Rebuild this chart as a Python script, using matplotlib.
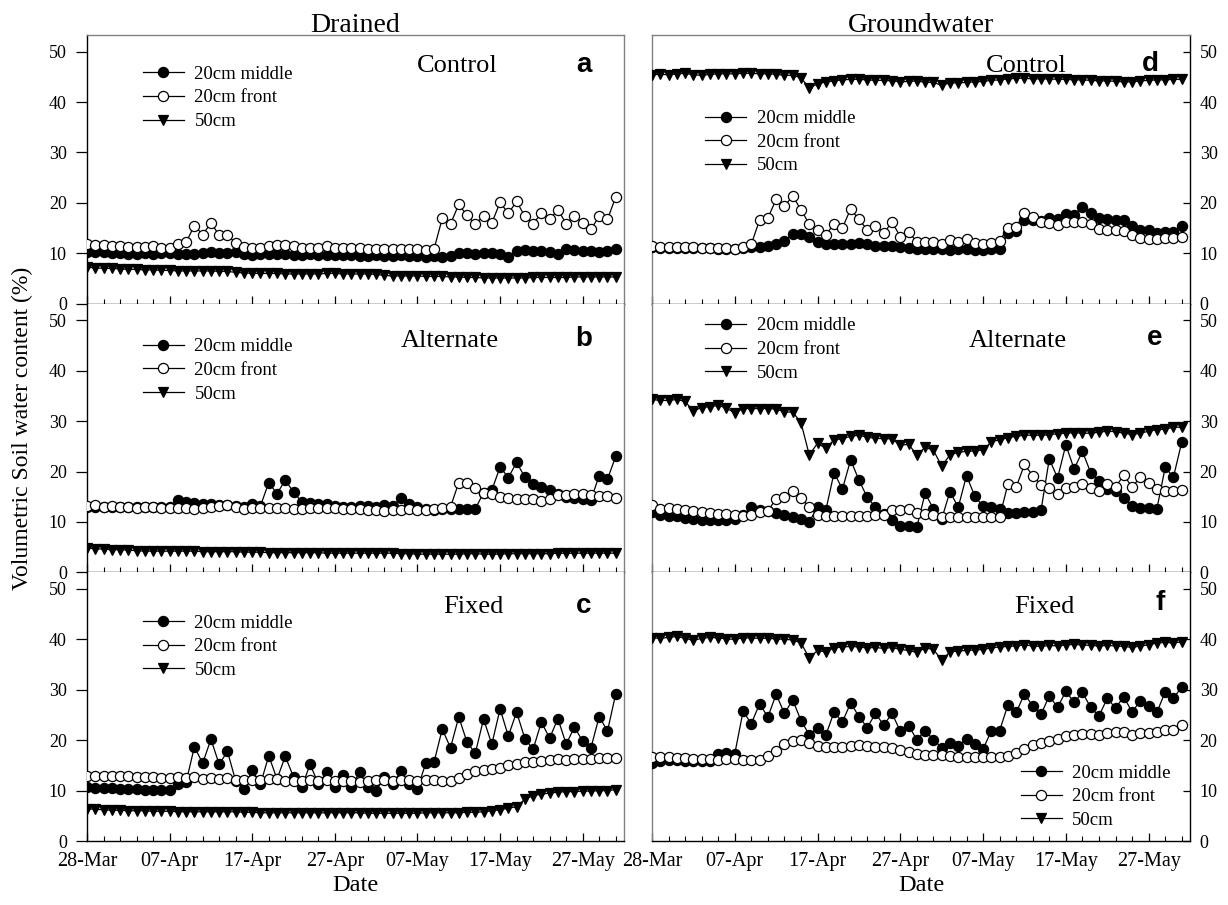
import matplotlib
matplotlib.use("Agg")
import matplotlib.pyplot as plt
import matplotlib.dates as mdates
from matplotlib.ticker import FixedLocator, NullFormatter
from datetime import datetime, timedelta

# ---------------- data ----------------
start = datetime(2010, 3, 28)
dates = [start + timedelta(days=i) for i in range(65)]
x_end = start + timedelta(days=65)
major_dates = [start + timedelta(days=10 * k) for k in range(7)]
minor_dates = [start + timedelta(days=2 * k) for k in range(33)]
tick_labels = ["28-Mar", "07-Apr", "17-Apr", "27-Apr", "07-May", "17-May", "27-May"]
yticks = [0, 10, 20, 30, 40, 50]
series_labels = ["20cm middle", "20cm front", "50cm"]
column_titles = ["Drained", "Groundwater"]
treatments = ["Control", "Alternate", "Fixed"]
panel_letters = ["a", "b", "c", "d", "e", "f"]

a_mid = [10.3,10.2,10.2,10.1,10.1,9.9,9.9,10.0,9.9,10.0,
         10.0,9.8,9.9,9.9,10.1,10.2,10.1,10.0,10.2,9.8,
         9.7,9.8,9.8,9.9,9.8,9.7,9.6,9.8,9.7,9.6,
         9.7,9.6,9.7,9.5,9.5,9.6,9.5,9.5,9.6,9.5,
         9.5,9.2,9.4,9.3,9.4,10.0,10.0,9.9,10.0,10.0,
         9.9,9.3,10.4,10.6,10.5,10.4,10.3,9.9,10.8,10.6,
         10.5,10.4,10.3,10.5,10.9]
a_front = [11.8,11.7,11.6,11.5,11.5,11.2,11.3,11.2,11.4,11.0,
           11.1,11.8,12.2,15.5,13.7,16.0,13.6,13.6,12.0,11.3,
           11.0,11.0,11.5,11.6,11.7,11.5,11.0,11.1,11.0,11.5,
           11.0,11.1,11.1,11.0,10.9,10.9,10.8,10.9,10.9,10.9,
           10.9,10.7,10.8,16.9,15.8,19.7,17.5,15.8,17.4,16.0,
           20.1,17.9,20.3,17.3,15.9,17.9,16.8,18.6,15.9,17.4,
           16.0,14.8,17.3,16.7,21.2]
a_50 = [7.2,7.1,7.0,7.0,6.9,6.8,6.8,6.7,6.7,6.6,
        6.6,6.5,6.5,6.5,6.5,6.5,6.4,6.4,6.2,6.1,
        6.0,6.0,6.0,6.0,5.9,5.9,5.9,5.9,5.9,6.0,
        6.0,5.9,5.9,5.9,5.9,5.8,5.6,5.5,5.5,5.5,
        5.5,5.4,5.4,5.4,5.3,5.3,5.2,5.2,5.1,5.1,
        5.1,5.1,5.1,5.1,5.2,5.2,5.2,5.2,5.2,5.3,
        5.3,5.3,5.3,5.3,5.3]

b_mid = [13.0,13.0,13.0,13.0,12.9,12.9,12.9,12.9,12.9,12.9,
         12.9,14.3,13.9,13.7,13.6,13.5,13.4,13.3,13.1,13.0,
         13.5,13.2,17.8,15.6,18.3,15.9,14.0,13.8,13.6,13.5,
         13.2,13.0,12.9,13.2,13.1,12.9,13.4,13.2,14.7,13.6,
         13.0,12.6,12.4,12.6,12.6,12.6,12.6,12.6,15.8,16.3,
         20.9,18.8,21.8,18.9,17.5,16.9,16.3,15.6,15.0,14.7,
         14.6,14.4,19.2,18.5,23.0]
b_front = [13.1,13.3,13.0,13.2,12.9,12.9,12.8,13.0,12.9,12.8,
           12.8,12.7,12.7,12.6,12.7,13.0,13.2,13.3,13.0,12.6,
           12.7,12.7,12.8,12.8,12.7,12.6,12.6,12.7,12.8,12.7,
           12.7,12.5,12.6,12.6,12.4,12.4,12.2,12.3,12.3,12.5,
           12.4,12.3,12.5,12.8,13.0,17.8,17.8,16.8,15.8,15.6,
           15.0,14.7,14.6,14.5,14.5,14.1,14.6,15.3,15.4,15.6,
           15.6,15.3,15.2,15.1,14.7]
b_50 = [4.8,4.7,4.6,4.5,4.5,4.4,4.3,4.2,4.2,4.2,
        4.2,4.2,4.2,4.2,4.1,4.1,4.1,4.1,4.1,4.0,
        4.0,4.0,3.9,3.9,3.9,3.9,3.9,3.9,3.9,3.8,
        3.8,3.8,3.8,3.8,3.8,3.8,3.8,3.8,3.7,3.7,
        3.6,3.6,3.6,3.6,3.6,3.6,3.7,3.7,3.6,3.6,
        3.6,3.7,3.7,3.7,3.7,3.7,3.7,3.8,3.8,3.8,
        3.8,3.8,3.8,3.8,3.8]

c_mid = [10.8,10.6,10.6,10.5,10.4,10.4,10.3,10.2,10.2,10.1,
         10.1,11.3,11.7,18.7,15.4,20.2,15.2,17.8,11.9,10.4,
         14.1,11.3,16.9,12.3,16.8,12.7,10.7,15.2,11.4,13.6,
         10.7,13.0,10.7,13.7,10.8,10.0,12.6,11.3,13.9,11.3,
         10.4,15.4,15.6,22.2,18.5,24.6,19.6,17.4,24.2,19.2,
         26.2,20.8,25.6,20.3,18.2,23.6,20.4,24.3,19.2,22.6,
         19.8,18.5,24.7,21.8,29.2]
c_front = [12.9,12.9,12.8,12.9,12.8,12.8,12.6,12.6,12.6,12.5,
           12.5,12.6,12.5,12.6,12.4,12.5,12.4,12.5,12.1,12.2,
           12.2,12.1,12.3,12.4,12.0,12.0,11.9,12.1,12.0,12.1,
           12.0,11.9,11.9,11.8,11.9,12.1,12.1,12.0,12.2,12.1,
           11.9,12.1,12.1,12.0,12.0,12.5,13.2,13.8,14.1,14.3,
           14.5,15.0,15.3,15.6,15.6,15.9,16.1,16.2,16.1,16.3,
           16.3,16.3,16.5,16.5,16.5]
c_50 = [6.4,6.3,6.2,6.1,6.1,6.0,6.0,6.0,5.9,5.9,
        5.9,5.8,5.8,5.8,5.8,5.8,5.8,5.8,5.8,5.7,
        5.7,5.6,5.6,5.6,5.6,5.6,5.6,5.6,5.6,5.6,
        5.6,5.6,5.6,5.6,5.5,5.5,5.5,5.5,5.5,5.5,
        5.5,5.6,5.6,5.6,5.6,5.6,5.7,5.7,5.8,6.0,
        6.2,6.5,6.8,8.3,9.0,9.3,9.5,9.7,9.8,9.8,
        9.9,9.9,10.0,10.0,10.2]

d_mid = [11.2,11.1,11.1,11.1,11.0,11.0,11.0,11.0,10.9,10.9,
         10.9,11.1,11.3,11.3,11.5,11.9,12.5,13.8,13.8,13.2,
         12.2,11.8,11.8,11.9,11.9,12.0,11.8,11.5,11.5,11.4,
         11.3,11.1,10.9,10.9,10.8,10.8,10.7,10.8,10.8,10.7,
         10.7,10.8,10.9,14.0,14.5,16.6,16.6,16.4,16.9,16.8,
         17.7,17.6,19.2,18.0,17.0,16.8,16.6,16.6,15.5,14.7,
         14.6,14.1,14.3,14.2,15.4]
d_front = [11.4,11.3,11.3,11.3,11.2,11.2,11.1,11.1,11.1,11.0,
           10.8,11.2,11.8,16.6,17.0,20.7,19.3,21.4,18.6,15.8,
           14.6,13.6,15.9,15.0,18.8,16.7,14.7,15.5,14.0,16.2,
           13.3,14.3,12.2,12.3,12.2,11.8,12.7,12.3,12.9,12.0,
           11.8,12.0,12.5,15.0,15.3,17.9,17.1,16.3,16.0,15.6,
           16.3,16.3,16.2,15.8,14.9,14.6,14.6,14.5,13.6,13.0,
           12.9,12.9,13.0,13.0,13.2]
d_50 = [45.4,45.5,45.4,45.6,45.7,45.4,45.3,45.5,45.6,45.6,
        45.6,45.7,45.7,45.6,45.6,45.5,45.3,45.3,44.8,42.8,
        43.6,44.0,44.2,44.4,44.5,44.5,44.4,44.3,44.3,44.2,
        44.0,44.1,44.2,43.9,43.9,43.3,43.8,43.8,43.9,44.0,
        44.1,44.3,44.4,44.6,44.7,44.7,44.6,44.6,44.6,44.5,
        44.5,44.4,44.4,44.3,44.2,44.2,44.1,44.0,44.0,44.2,
        44.3,44.4,44.4,44.5,44.5]

e_mid = [12.0,11.4,11.2,11.1,10.8,10.6,10.4,10.4,10.4,10.4,
         10.5,11.3,12.9,12.4,12.2,11.7,11.3,11.0,10.6,10.0,
         13.0,12.3,19.8,16.5,22.3,18.3,14.9,12.9,11.6,10.3,
         9.2,9.1,9.0,15.7,12.6,10.6,16.0,12.9,19.2,15.1,
         13.1,12.9,12.5,11.8,11.8,11.9,12.0,12.3,22.5,18.7,
         25.3,20.5,24.0,19.8,18.2,16.6,16.1,14.8,13.2,12.7,
         12.7,12.6,20.8,18.9,25.8]
e_front = [13.4,12.6,12.7,12.6,12.3,12.1,11.9,11.8,11.6,11.5,
           11.3,11.1,11.3,11.9,12.2,14.6,15.0,16.2,14.8,12.9,
           11.3,11.1,11.2,11.2,11.2,11.2,11.2,11.3,11.3,12.3,
           12.3,12.6,11.7,11.5,11.3,11.0,10.9,10.9,10.9,10.9,
           10.9,11.0,11.0,17.5,16.9,21.4,19.2,17.4,16.7,15.6,
           16.7,17.0,17.6,16.8,16.1,17.5,16.9,19.3,16.9,18.9,
           17.8,16.6,16.1,16.1,16.4]
e_50 = [34.3,34.1,34.1,34.3,33.9,32.0,32.7,32.9,33.1,32.6,
        31.6,32.5,32.5,32.5,32.5,32.4,31.8,31.8,29.7,23.3,
        25.6,24.6,26.3,26.5,27.0,27.2,26.8,26.6,26.5,26.5,
        25.2,25.4,23.3,24.8,24.2,21.1,23.3,23.8,24.0,24.1,
        24.3,25.9,26.3,26.7,27.0,27.2,27.2,27.2,27.3,27.5,
        27.6,27.7,27.6,27.6,27.8,28.0,27.9,27.6,27.3,27.6,
        28.0,28.3,28.4,28.8,28.8]

f_mid = [15.5,15.9,16.0,16.1,15.9,15.8,15.9,15.9,17.3,17.4,
         17.3,25.7,23.3,27.2,24.6,29.1,25.3,28.0,23.9,21.1,
         22.5,21.0,25.6,23.6,27.4,24.7,22.5,25.3,23.0,25.3,
         21.8,22.9,20.1,21.9,20.1,18.5,19.5,18.8,20.3,19.2,
         18.2,21.9,21.9,27.0,25.5,29.2,26.8,25.1,28.8,26.5,
         29.7,27.5,29.5,26.5,24.8,28.3,26.4,28.6,25.6,27.8,
         26.7,25.5,29.6,28.4,30.5]
f_front = [16.7,16.6,16.6,16.5,16.4,16.3,16.2,16.2,16.1,16.2,
           16.2,16.0,16.1,16.1,16.8,17.8,19.2,19.9,20.1,19.5,
           18.9,18.6,18.7,18.7,18.9,19.1,18.9,18.7,18.7,18.4,
           18.0,17.6,17.3,17.1,17.1,17.1,16.9,16.7,16.6,16.6,
           16.6,16.6,16.7,16.9,17.4,18.3,19.1,19.4,19.8,20.2,
           20.8,21.0,21.3,21.2,21.1,21.5,21.6,21.6,21.0,21.4,
           21.5,21.6,22.0,22.1,23.1]
f_50 = [40.3,40.2,40.4,40.6,40.2,39.8,40.2,40.4,40.3,40.1,
        40.0,40.3,40.3,40.2,40.2,40.1,40.0,39.9,39.3,36.3,
        37.8,37.5,38.3,38.5,38.6,38.5,38.3,38.4,38.2,38.4,
        38.0,37.8,37.4,38.3,38.0,35.9,37.5,37.7,37.8,37.9,
        38.0,38.3,38.5,38.6,38.7,38.9,38.7,38.6,38.8,38.7,
        38.9,39.0,38.9,38.8,38.7,38.8,38.7,38.6,38.4,38.7,
        38.9,39.3,39.4,39.3,39.5]

panel_data = [
    (a_mid, a_front, a_50), (b_mid, b_front, b_50), (c_mid, c_front, c_50),
    (d_mid, d_front, d_50), (e_mid, e_front, e_50), (f_mid, f_front, f_50),
]

# ---------------- layout / style ----------------
SERIF = "Liberation Serif"
SANS = "Liberation Sans"
plt.rcParams["font.family"] = SERIF

W, H = 1228, 905
fig = plt.figure(figsize=(W / 100, H / 100), dpi=100)

col_x = [87 / W, 652 / W]
col_w = [537 / W, 538 / W]
row_h = 268.67 / H
row_y = [1 - 35 / H - row_h, 1 - 35 / H - 2 * row_h, 1 - 35 / H - 3 * row_h]

legend_pos = [(0.104, 0.766), (0.104, 0.752), (0.104, 0.723),
              (0.0985, 0.601), (0.0985, 0.829), (0.685, 0.165)]
treat_pos = [(0.689, 0.863), (0.676, 0.837), (0.719, 0.847),
             (0.696, 0.863), (0.679, 0.837), (0.7295, 0.847)]
letter_pos = [(0.925, 0.863), (0.924, 0.841), (0.925, 0.847),
              (0.926, 0.867), (0.934, 0.847), (0.944, 0.86)]

GRAY = "#808080"
styles = [dict(marker="o", mfc="black", mec="black"),
          dict(marker="o", mfc="white", mec="black"),
          dict(marker="v", mfc="black", mec="black")]

axes = []
for col in range(2):
    for row in range(3):
        idx = col * 3 + row
        ax = fig.add_axes([col_x[col], row_y[row], col_w[col], row_h])
        axes.append(ax)
        handles = []
        for s, (vals, st) in enumerate(zip(panel_data[idx], styles)):
            h, = ax.plot(dates, vals, color="black", lw=0.9, ms=7.3,
                         mew=0.9, label=series_labels[s], zorder=3 + s, **st)
            handles.append(h)
        ax.set_xlim(start, x_end)
        ax.set_ylim(0, 53.3)
        ax.set_yticks(yticks)
        ax.xaxis.set_major_locator(FixedLocator(mdates.date2num(major_dates)))
        ax.xaxis.set_minor_locator(FixedLocator(mdates.date2num(minor_dates)))
        ax.tick_params(axis="x", which="major", direction="in", length=6,
                       width=0.9, pad=8, labelsize=14.5)
        ax.tick_params(axis="x", which="minor", direction="in", length=3.5,
                       width=0.8)
        if row == 2:
            ax.set_xticklabels(tick_labels)
            ax.set_xlabel("Date", fontsize=17.5, labelpad=3)
        else:
            ax.xaxis.set_major_formatter(NullFormatter())

        for sp in ax.spines.values():
            sp.set_linewidth(1.0)
        ax.spines["bottom"].set_color("black")
        ax.spines["top"].set_color(GRAY)
        if row > 0:
            ax.spines["top"].set_visible(False)
        if col == 0:
            ax.spines["left"].set_color("black")
            ax.spines["right"].set_color(GRAY)
            ax.tick_params(axis="y", direction="out", length=8, width=0.9,
                           pad=6.5, labelsize=13, left=True, right=False)
        else:
            ax.spines["right"].set_color("black")
            ax.spines["left"].set_color(GRAY)
            ax.yaxis.tick_right()
            ax.tick_params(axis="y", direction="in", length=5, width=0.9,
                           pad=7, labelsize=13, left=False, right=True,
                           labelright=True, labelleft=False)

        lx, ly = legend_pos[idx]
        ax.legend(handles=handles, loc="center left", bbox_to_anchor=(lx, ly),
                  frameon=False, handlelength=2.2, handletextpad=0.55,
                  labelspacing=0.35, borderpad=0, borderaxespad=0,
                  prop={"family": SERIF, "size": 13.5})

        tx, ty = treat_pos[idx]
        ax.text(tx, ty, treatments[row], transform=ax.transAxes, ha="center",
                va="baseline", fontsize=19, family=SERIF)
        px, py = letter_pos[idx]
        ax.text(px, py, panel_letters[idx], transform=ax.transAxes,
                ha="center", va="baseline", fontsize=20, family=SANS,
                fontweight="bold")

# column titles
fig.text(355 / W, 1 - 31.7 / H, column_titles[0], ha="center", va="baseline",
         fontsize=20, family=SERIF)
fig.text(921 / W, 1 - 31.7 / H, column_titles[1], ha="center", va="baseline",
         fontsize=20, family=SERIF)

fig.text(22 / W, 1 - 428 / H, "Volumetric Soil water content (%)",
         rotation=90, ha="center", va="center", fontsize=17, family=SERIF)

fig.savefig("out.png", dpi=100)
